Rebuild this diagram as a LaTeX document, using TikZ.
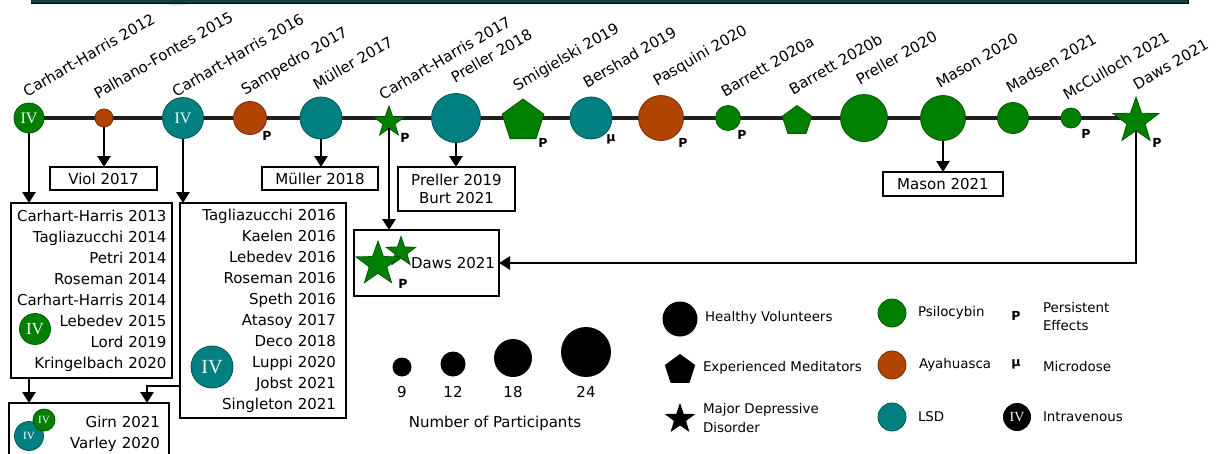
\documentclass[tikz,border=0pt]{standalone}
\usepackage{fontspec}
\setmainfont{DejaVu Sans}
\newfontfamily\ivfont{Liberation Serif}
\usetikzlibrary{shapes.geometric,arrows.meta,backgrounds}

\definecolor{psilo}{RGB}{0,128,0}
\definecolor{psiloline}{RGB}{0,88,0}
\definecolor{lsdc}{RGB}{0,128,128}
\definecolor{lsdline}{RGB}{0,84,84}
\definecolor{ayah}{RGB}{176,68,0}
\definecolor{ayahline}{RGB}{118,44,0}
\definecolor{axisc}{RGB}{35,31,32}
\definecolor{barc}{RGB}{12,64,60}

\begin{document}
\begin{tikzpicture}[x=1pt,y=-1pt,
  every node/.style={inner sep=0pt, outer sep=0pt},
  disc/.style={circle, minimum size=#1},
  pent/.style={regular polygon, regular polygon sides=5, minimum size=#1},
  starnode/.style={star, star points=5, star point ratio=2.5, minimum size=#1},
  psi/.style={fill=psilo, draw=psiloline, line width=0.8pt},
  lsd/.style={fill=lsdc, draw=lsdline, line width=0.8pt},
  aya/.style={fill=ayah, draw=ayahline, line width=0.8pt},
  blk/.style={fill=black},
  iv/.style={text=white, font=\ivfont\fontsize{#1}{#1}\selectfont},
  study/.style={anchor=base west, rotate=30, font=\fontsize{15}{17}\selectfont},
  peff/.style={font=\bfseries\fontsize{12.5}{13}\selectfont},
  refbox/.style={draw, line width=2.2pt, anchor=north west, font=\fontsize{15}{21}\selectfont},
  legtext/.style={anchor=west, align=left, font=\fontsize{13.4}{18}\selectfont},
  num/.style={font=\fontsize{15}{17}\selectfont},
  arr/.style={line width=2.8pt, -{Triangle[width=13pt,length=11pt]}}
]
\useasboundingbox (0,0) rectangle (1218,453);
\clip (0,0) rectangle (1218,453);

% cropped header
\fill[gray!18] (177,-25) circle (31);
\fill[barc] (31,-4) rectangle (1188,3);
\draw[line width=0.6pt] (31,3) -- (1188,3) -- (1188,-4);

% timeline
\node[disc=30, psi, iv=16] (ch12) at (29,118) {IV};
\node[disc=18, aya] (palh15) at (104,118) {};
\node[disc=41, lsd, iv=16] (ch16) at (183,118) {IV};
\node[disc=33, aya] (samp17) at (250,118) {};
\node[disc=42, lsd] (mull17) at (321,118) {};
\node[starnode=32, psi] (ch17) at (389,122) {};
\node[disc=49, lsd] (prel18) at (456,118) {};
\node[pent=44, psi] (smig19) at (523,121) {};
\node[disc=42, lsd] (bers19) at (591,118) {};
\node[disc=45, aya] (pasq20) at (661,118) {};
\node[disc=25, psi] (barr20a) at (728,118) {};
\node[pent=31, psi] (barr20b) at (797,121) {};
\node[disc=47, psi] (prel20) at (864,118) {};
\node[disc=45, psi] (maso20) at (943,118) {};
\node[disc=31, psi] (mads21) at (1013,118) {};
\node[disc=20, psi] (mccu21) at (1071,118) {};
\node[starnode=48, psi] (daws21) at (1136,121) {};

\begin{scope}[on background layer]
\fill[white] (0,0) rectangle (1218,453);
\draw[line width=4pt, axisc] (ch12.center) -- (ch12.center -| daws21.center);
\end{scope}

\node[study] (t-ch12) at (27,97) {Carhart-Harris 2012};
\node[study] (t-palh15) at (98,99) {Palhano-Fontes 2015};
\node[study] (t-ch16) at (176,97) {Carhart-Harris 2016};
\node[study] (t-samp17) at (245,95) {Sampedro 2017};
\node[study] (t-mull17) at (317,90) {Müller 2017};
\node[study] (t-ch17) at (383,100) {Carhart-Harris 2017};
\node[study] (t-prel18) at (455,83) {Preller 2018};
\node[study] (t-smig19) at (517,91) {Smigielski 2019};
\node[study] (t-bers19) at (587,88) {Bershad 2019};
\node[study] (t-pasq20) at (657,86) {Pasquini 2020};
\node[study] (t-barr20a) at (725,97) {Barrett 2020a};
\node[study] (t-barr20b) at (793,95) {Barrett 2020b};
\node[study] (t-prel20) at (860,85) {Preller 2020};
\node[study] (t-maso20) at (940,88) {Mason 2020};
\node[study] (t-mads21) at (1010,93) {Madsen 2021};
\node[study] (t-mccu21) at (1067,100) {McCulloch 2021};
\node[study] (t-daws21) at (1137,90) {Daws 2021};

\node[peff] (p-samp17) at (267,136) {P};
\node[peff] (p-ch17) at (405,138) {P};
\node[peff] (p-smig19) at (543,143) {P};
\node[peff] (m-bers19) at (611,139) {μ};
\node[peff] (p-pasq20) at (683,143) {P};
\node[peff] (p-barr20a) at (742,135) {P};
\node[peff] (p-mccu21) at (1086,134) {P};
\node[peff] (p-daws21) at (1157,143) {P};

% follow-up studies
\node[refbox, minimum width=107pt, minimum height=23pt] (viol) at (50,167) {Viol 2017};
\node[refbox, minimum width=116pt, minimum height=23pt] (mull18) at (262,167) {Müller 2018};
\node[refbox, minimum width=117pt, minimum height=44pt, align=center,
  font=\fontsize{15}{18}\selectfont] (prel19) at (398,167) {Preller 2019\\Burt 2021};
\node[refbox, minimum width=120pt, minimum height=24pt] (mas21) at (883,172) {Mason 2021};
\node[refbox, text width=137pt, inner xsep=4pt, minimum height=66pt, align=right] (dawsbox) at (354,230) {Daws 2021};
\node[refbox, text width=150pt, inner xsep=5.5pt, minimum height=175pt, align=right] (grpA) at (11,203)
  {Carhart-Harris 2013\\Tagliazucchi 2014\\Petri 2014\\Roseman 2014\\Carhart-Harris 2014\\Lebedev 2015\\Lord 2019\\Kringelbach 2020};
\node[refbox, text width=146pt, inner xsep=10pt, minimum height=215pt, align=right] (grpB) at (180,203)
  {Tagliazucchi 2016\\Kaelen 2016\\Lebedev 2016\\Roseman 2016\\Speth 2016\\Atasoy 2017\\Deco 2018\\Luppi 2020\\Jobst 2021\\Singleton 2021};
\node[refbox, text width=142pt, inner xsep=9pt, minimum height=61pt, align=right] (grpC) at (9,403)
  {Girn 2021\\Varley 2020};

\node[disc=31, psi, iv=17] (iv-a) at (35,329) {IV};
\node[disc=42, lsd, iv=20] (iv-b) at (212,367) {IV};
\node[disc=29, lsd, iv=11] (iv-c1) at (29,436) {IV};
\node[disc=22, psi, iv=11] (iv-c2) at (44,420) {IV};
\node[starnode=31, psi] (st-small) at (401,252) {};
\node[starnode=46, psi] (st-big) at (378,264) {};
\node[peff] (p-dawsbox) at (403,284) {P};

\draw[arr] (ch12) -- (ch12 |- grpA.north);
\draw[arr] (palh15) -- (palh15 |- viol.north);
\draw[arr] (ch16) -- (ch16 |- grpB.north);
\draw[arr] (mull17) -- (mull17 |- mull18.north);
\draw[arr] (prel18) -- (prel18 |- prel19.north);
\draw[arr] (maso20) -- (maso20 |- mas21.north);
\draw[arr] (ch17) -- (ch17 |- dawsbox.north);
\draw[arr] (daws21) |- (dawsbox.east);
\draw[arr] (grpA.south -| ch12) -- (grpC.north -| ch12);
\draw[arr] ([yshift=32pt]grpB.south west) -| ([xshift=138pt]grpC.north west);

% legend
\node[disc=19, blk] (n9) at (402,367) {};
\node[disc=25, blk] (n12) at (453,364) {};
\node[disc=38, blk] (n18) at (513,358) {};
\node[disc=50, blk] (n24) at (586,352) {};
\node[num] (t-n9) at (402,392) {9};
\node[num] (t-n12) at (453,392) {12};
\node[num] (t-n18) at (513,392) {18};
\node[num] (t-n24) at (586,392) {24};
\node[num] (t-npart) at (495,423) {Number of Participants};

\node[disc=35, blk] (k-hv) at (680,319) {};
\node[legtext] (t-hv) at (705,318) {Healthy Volunteers};
\node[pent=32, blk] (k-em) at (680,370) {};
\node[legtext] (t-em) at (703,368) {Experienced Meditators};
\node[starnode=32, blk] (k-mdd) at (680,419) {};
\node[legtext, font=\fontsize{13.4}{19}\selectfont] (t-mdd) at (703,418) {Major Depressive\\Disorder};

\node[disc=28, psi] (k-psi) at (892,313) {};
\node[legtext] (t-psi) at (918,313) {Psilocybin};
\node[disc=28, aya] (k-aya) at (892,365) {};
\node[legtext] (t-aya) at (919,365) {Ayahuasca};
\node[disc=28, lsd] (k-lsd) at (892,417) {};
\node[legtext] (t-lsd) at (918,417) {LSD};

\node[peff] (k-pe) at (1016,316) {P};
\node[legtext] (t-pe) at (1043,316) {Persistent\\Effects};
\node[peff] (k-mu) at (1016,364) {μ};
\node[legtext] (t-mu) at (1043,366) {Microdose};
\node[disc=28, blk, iv=14] (k-iv) at (1017,417) {IV};
\node[legtext] (t-iv) at (1043,417) {Intravenous};
\end{tikzpicture}
\end{document}
